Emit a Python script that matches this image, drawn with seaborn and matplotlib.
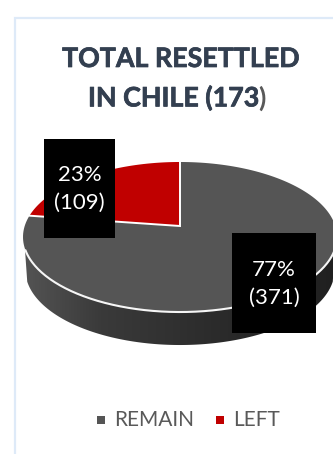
import numpy as np
import matplotlib
matplotlib.use("Agg")
import matplotlib.pyplot as plt
import matplotlib.patheffects as pe
from matplotlib.colors import LinearSegmentedColormap
from matplotlib.patches import Polygon, Rectangle
import seaborn as sns

categories = ["REMAIN", "LEFT"]
counts = [371, 109]
colors = ["#555555", "#C00000"]
title_lines = ["TOTAL RESETTLED", "IN CHILE (173"]

sns.set_theme(style="white")
plt.rcParams["font.family"] = ["Lato", "DejaVu Sans"]

W, H = 333, 454
fig = plt.figure(figsize=(W / 100, H / 100), dpi=100)
ax = fig.add_axes([0, 0, 1, 1])
ax.axis("off")

# Card outline: only the top and left edges fall inside the canvas
ax.plot([15, 15, W], [H, 18, 18], color="#DEEAF8", lw=1.6, solid_joinstyle="miter")

# Tilted disc: a unit circle seen in perspective
CX, CY, K = 180.0, 226.0, 0.1467
AY, AX = 73.4, 155.3
DEPTH = 33.0


def project(theta):
    """Angle clockwise from twelve o'clock to canvas coordinates."""
    u, v = np.sin(theta), np.cos(theta)
    w = 1 + K * v
    return CX + AX * u / w, CY - AY * v / w


def outline(start, end, n=160):
    return np.column_stack(project(np.linspace(start, end, n)))


# Slice boundaries come straight from the counts
fractions = np.array(counts) / sum(counts)
remain_end = 2 * np.pi * fractions[0]

# Rim of the disc: one clipped horizontal gradient, lighter on the left
front = outline(np.pi / 2 + 0.3, 3 * np.pi / 2 - 0.3)
lower = front[::-1] + [0, DEPTH]
lower[:, 0] = CX + (lower[:, 0] - CX) * 0.985
rim = Polygon(np.vstack([front, lower]), closed=True, fc="none", ec="none",
              transform=ax.transData)
ax.add_patch(rim)
rim_cmap = LinearSegmentedColormap.from_list(
    "rim", sns.blend_palette(["#555555", "#3A3A3A", "#303030", "#262626", "#202020"], 64))
gradient = ax.imshow(np.linspace(0, 1, 256)[None, :], cmap=rim_cmap, aspect="auto",
                     extent=(20, 340, 360, 220), zorder=2)
gradient.set_clip_path(rim)
ax.set_xlim(0, W)
ax.set_ylim(H, 0)

# Top face slices
remain = np.vstack([[CX, CY], outline(0, remain_end)])
left = np.vstack([[CX, CY], outline(remain_end, 2 * np.pi)])
ax.add_patch(Polygon(remain, closed=True, fc=colors[0], ec="none", zorder=3))
ax.add_patch(Polygon(left, closed=True, fc=colors[1], ec="none", zorder=3))

# White seams between slices and along the front of the disc
end_x, end_y = project(remain_end)
top_x, top_y = project(0.0)
ax.plot([top_x, CX, end_x], [top_y, CY, end_y], color="white", lw=1.4, zorder=4,
        solid_joinstyle="miter")
lip = outline(np.pi / 2 + 0.32, 3 * np.pi / 2 - 0.32)
ax.plot(lip[:, 0], lip[:, 1], color="#F6F6F6", lw=1.5, zorder=4)

# Title; the closing bracket sits in a softer grey
title_color = "#333F50"
heavier = [pe.withStroke(linewidth=0.5, foreground=title_color)]
ax.text(180.5, 59, title_lines[0], ha="center", va="center", fontsize=19.3, fontweight="bold",
        color=title_color, path_effects=heavier)
second = ax.text(88, 98, title_lines[1], ha="left", va="center", fontsize=19.3, fontweight="bold",
                 color=title_color, path_effects=heavier)
ax.annotate(")", xy=(1, 0), xycoords=second, va="bottom", ha="left", fontsize=19.3,
            fontweight="bold", color="#595959")

# Value labels on black boxes
boxes = [(232, 233, 84, 100), (44, 139, 71, 99)]
for frac, count, (x, y, w, h) in zip(fractions, counts, boxes):
    ax.add_patch(Rectangle((x, y), w, h, fc="black", ec="none", zorder=5))
    ax.text(x + w / 2, y + h / 2 + 0.5, f"{frac:.0%}\n({count})", color="white", ha="center",
            va="center", fontsize=16, linespacing=1.5, zorder=6)

# Legend
legend_items = [(97, 114), (216, 233)]
for name, color, (sq_x, txt_x) in zip(categories, colors, legend_items):
    ax.add_patch(Rectangle((sq_x, 416), 8, 8, fc=color, ec="none"))
    ax.text(txt_x, 419.5, name, color="#595959", ha="left", va="center", fontsize=15)

fig.savefig("out.png", dpi=100)
